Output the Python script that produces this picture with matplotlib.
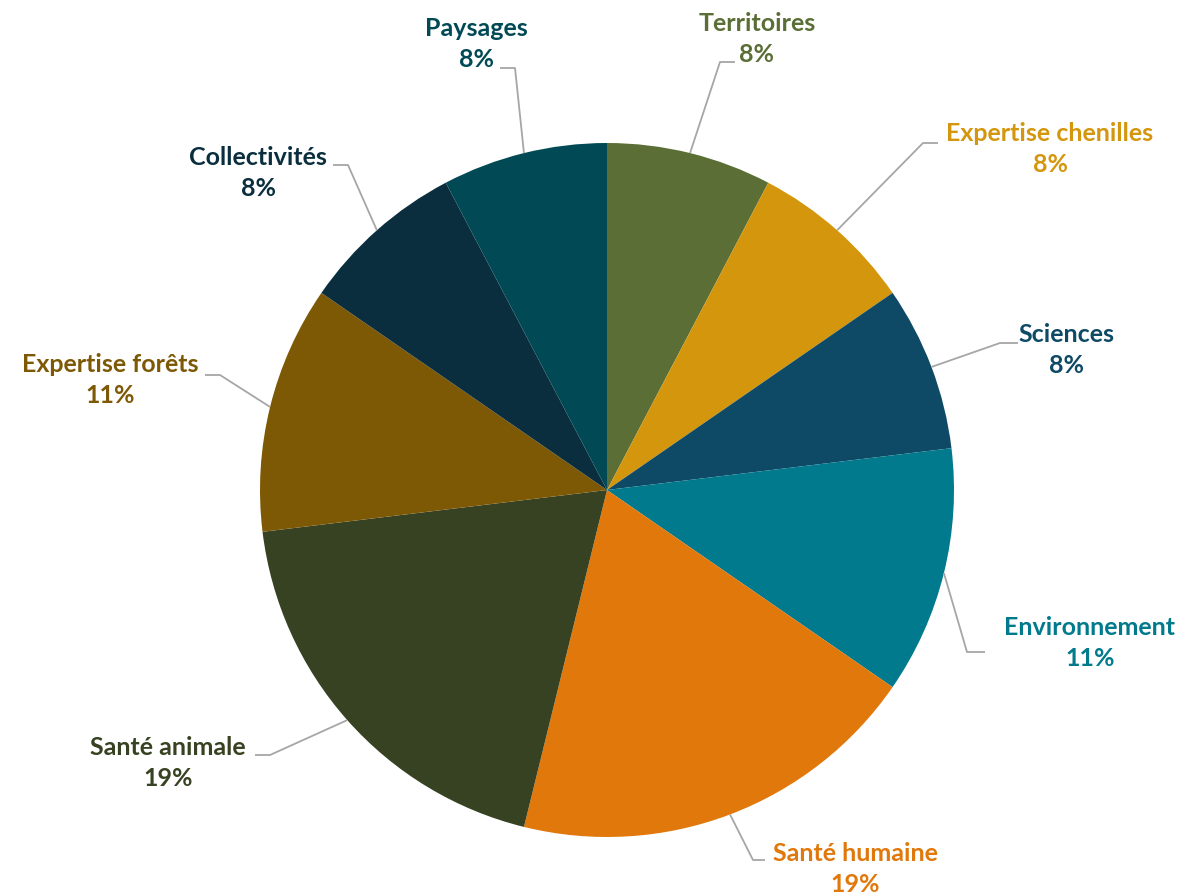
import numpy as np
import matplotlib
matplotlib.use("Agg")
import matplotlib.pyplot as plt

categories = ["Territoires", "Expertise chenilles", "Sciences", "Environnement",
              "Santé humaine", "Santé animale", "Expertise forêts", "Collectivités", "Paysages"]
values = [2, 2, 2, 3, 5, 5, 3, 2, 2]
pct_labels = ["8%", "8%", "8%", "11%", "19%", "19%", "11%", "8%", "8%"]
colors = ["#5A6E35", "#D4960C", "#0E4A66", "#007A8C", "#E0780C",
          "#364221", "#7E5905", "#0A2E3E", "#014A55"]

W, H = 1186, 896
fig = plt.figure(figsize=(W / 100, H / 100), dpi=100)
ax = fig.add_axes([0, 0, 1, 1])

cx, cy, R = 607, H - 490, 347
wedges, _ = ax.pie(values, colors=colors, startangle=90, counterclock=False,
                   center=(cx, cy), radius=R, frame=True,
                   wedgeprops=dict(linewidth=0))
ax.set_xlim(0, W)
ax.set_ylim(0, H)
ax.set_aspect("equal")
ax.axis("off")

# label layout: text centre (x, y from top), leader end (x, y from top), elbow x
layout = {
    "Territoires": ((757, 39), (735, 62), 720),
    "Expertise chenilles": ((1050, 149), (938, 143), 923),
    "Sciences": ((1066, 350), (1018, 343), 1000),
    "Environnement": ((1090, 643), (985, 652), 967),
    "Santé humaine": ((855, 869), (765, 860), 753),
    "Santé animale": ((168, 763), (255, 755), 270),
    "Expertise forêts": ((110, 380), (205, 375), 220),
    "Collectivités": ((258, 173), (333, 165), 348),
    "Paysages": ((476, 44), (500, 68), 515),
}

for w, cat, pct, col in zip(wedges, categories, pct_labels, colors):
    mid = np.deg2rad((w.theta1 + w.theta2) / 2)
    px, py = cx + R * np.cos(mid), cy + R * np.sin(mid)
    (tx, ty), (ex, ey), kx = layout[cat]
    ax.plot([px, kx, ex], [py, H - ey, H - ey], color="#A6A6A6", lw=1.3,
            solid_capstyle="butt", zorder=1)
    ax.text(tx, H - ty, f"{cat}\n{pct}", ha="center", va="center",
            color=col, fontsize=18, fontweight="bold", family="Lato",
            linespacing=1.45)

fig.savefig("out.png", dpi=100, facecolor="white")
